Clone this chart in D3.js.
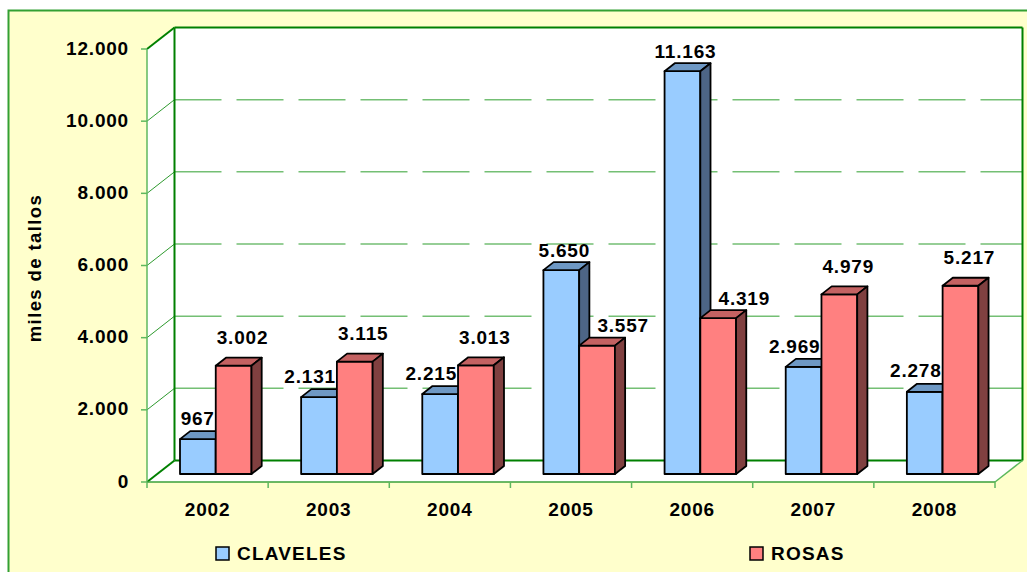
<!DOCTYPE html>
<html>
<head>
<meta charset="utf-8">
<script src="https://cdn.jsdelivr.net/npm/d3@7"></script>
<style>
  body { margin: 0; background: #fff; }
  svg { display: block; }
  text { font-family: "Liberation Sans", Arial, sans-serif; font-weight: bold; fill: #000; }
</style>
</head>
<body>
<svg id="canvas" width="1027" height="572"></svg>
<script>
let years = ['2002', '2003', '2004', '2005', '2006', '2007', '2008']
let claveles = [967, 2131, 2215, 5650, 11163, 2969, 2278]
let rosas = [3002, 3115, 3013, 3557, 4319, 4979, 5217]
let seriesNames = ['CLAVELES', 'ROSAS']
let yTicks = [0, 2000, 4000, 6000, 8000, 10000, 12000]
let yTitle = 'miles de tallos'

// colours: front, top, side
let colors = {
    CLAVELES: ['#99ccff', '#6e98c4', '#4d6586'],
    ROSAS: ['#ff8080', '#c46262', '#804040']
}

let locale = d3.formatLocale({ decimal: ',', thousands: '.', grouping: [3], currency: ['', ''] })
let fmt = locale.format(',d')

let canvas = d3.select('#canvas')

// wall depth (oblique projection) and bar depth
let wallDx = 27.5, wallDy = -21.5
let frontDx = 10.2, frontDy = -8
let barDx = 10.2, barDy = -8

let x = d3.scaleBand().domain(years).range([147, 995])
let xs = d3.scaleBand().domain(seriesNames).range([0, 71.5])
let y = d3.scaleLinear().domain([0, 12000]).range([482, 49])

let x0 = x.range()[0], x1 = x.range()[1]
let yBase = y(0), yTop = y(12000)

// outer frame
canvas.append('rect')
    .attr('x', 8.5).attr('y', 10.5)
    .attr('width', 1040).attr('height', 600)
    .attr('fill', '#ffffcc')
    .attr('stroke', '#33a033')
    .attr('stroke-width', 2)

// walls and floor
let wallFill = '#ffffff'
canvas.append('rect')
    .attr('x', x0 + wallDx).attr('y', yTop + wallDy)
    .attr('width', x1 - x0).attr('height', yBase - yTop)
    .attr('fill', wallFill)
canvas.append('polygon')
    .attr('points', [[x0, yTop], [x0 + wallDx, yTop + wallDy], [x0 + wallDx, yBase + wallDy], [x0, yBase]].join(' '))
    .attr('fill', wallFill)
canvas.append('polygon')
    .attr('points', [[x0, yBase], [x1, yBase], [x1 + wallDx, yBase + wallDy], [x0 + wallDx, yBase + wallDy]].join(' '))
    .attr('fill', wallFill)

// gridlines
let gridTicks = yTicks.filter(t => t > 0 && t < 12000)
canvas.selectAll('line.grid')
    .data(gridTicks)
    .enter()
    .append('line')
    .attr('class', 'grid')
    .attr('x1', x0 + wallDx).attr('x2', x1 + wallDx)
    .attr('y1', d => y(d) + wallDy).attr('y2', d => y(d) + wallDy)
    .attr('stroke', '#74bf74')
    .attr('stroke-width', 1.5)
    .attr('stroke-dasharray', '47,15')
canvas.selectAll('line.sidegrid')
    .data(gridTicks)
    .enter()
    .append('line')
    .attr('class', 'sidegrid')
    .attr('x1', x0).attr('x2', x0 + wallDx)
    .attr('y1', d => y(d)).attr('y2', d => y(d) + wallDy)
    .attr('stroke', '#2e9a2e')
    .attr('stroke-width', 1)

// back wall edges
let dark = '#008000'
let edge = (a, b, col, w) => canvas.append('line')
    .attr('x1', a[0]).attr('y1', a[1]).attr('x2', b[0]).attr('y2', b[1])
    .attr('stroke', col).attr('stroke-width', w)
edge([x0 + wallDx, yTop + wallDy], [x1 + wallDx, yTop + wallDy], dark, 2)
edge([x0 + wallDx, yTop + wallDy], [x0 + wallDx, yBase + wallDy], dark, 2)
edge([x1 + wallDx, yTop + wallDy], [x1 + wallDx, yBase + wallDy], dark, 2)
edge([x0 + wallDx, yBase + wallDy], [x1 + wallDx, yBase + wallDy], dark, 2)
edge([x0, yTop], [x0 + wallDx, yTop + wallDy], dark, 2)
edge([x0, yBase], [x0 + wallDx, yBase + wallDy], dark, 2)
edge([x1, yBase], [x1 + wallDx, yBase + wallDy], '#5cb85c', 1.5)

// front axes
let light = '#5fb85f'
edge([x0, yTop], [x0, yBase], light, 1.5)
edge([x0, yBase], [x1, yBase], '#3aa03a', 1.5)

canvas.selectAll('line.ytick')
    .data(yTicks)
    .enter()
    .append('line')
    .attr('x1', x0 - 6).attr('x2', x0)
    .attr('y1', d => y(d)).attr('y2', d => y(d))
    .attr('stroke', light).attr('stroke-width', 1.5)

canvas.selectAll('text.ylab')
    .data(yTicks)
    .enter()
    .append('text')
    .attr('x', 129)
    .attr('y', d => y(d) - 1)
    .attr('dy', '0.35em')
    .attr('text-anchor', 'end')
    .attr('font-size', 19)
    .attr('letter-spacing', 0.8)
    .text(d => fmt(d))

let xTickPos = years.map(d => x(d)).concat([x1])
canvas.selectAll('line.xtick')
    .data(xTickPos)
    .enter()
    .append('line')
    .attr('x1', d => d).attr('x2', d => d)
    .attr('y1', yBase).attr('y2', yBase + 6)
    .attr('stroke', light).attr('stroke-width', 1.5)

canvas.selectAll('text.xlab')
    .data(years)
    .enter()
    .append('text')
    .attr('x', d => x(d) + x.bandwidth() / 2)
    .attr('y', 516)
    .attr('text-anchor', 'middle')
    .attr('font-size', 19)
    .attr('letter-spacing', 0.8)
    .text(d => d)

// axis title
canvas.append('text')
    .attr('transform', 'translate(35,268) rotate(-90)')
    .attr('dy', '0.35em')
    .attr('text-anchor', 'middle')
    .attr('font-size', 18.5)
    .attr('letter-spacing', 1.4)
    .text(yTitle)

// bars
let groupOffset = 22.8
let bw = xs.bandwidth()
let barData = []
years.forEach((yr, i) => {
    barData.push({ year: yr, s: 'CLAVELES', v: claveles[i], other: rosas[i] })
    barData.push({ year: yr, s: 'ROSAS', v: rosas[i], other: claveles[i] })
})

let bars = canvas.selectAll('g.bar')
    .data(barData)
    .enter()
    .append('g')
    .attr('class', 'bar')

let bx = d => x(d.year) + frontDx + groupOffset + xs(d.s)
let bTop = d => y(d.v) + frontDy
let bBot = yBase + frontDy

bars.append('rect')
    .attr('x', bx)
    .attr('y', bTop)
    .attr('width', bw)
    .attr('height', d => bBot - bTop(d))
    .attr('fill', d => colors[d.s][0])
    .attr('stroke', '#000').attr('stroke-width', 1.8).attr('stroke-linejoin', 'round')
bars.append('polygon')
    .attr('points', d => {
        let l = bx(d), t = bTop(d)
        return [[l, t], [l + barDx, t + barDy], [l + bw + barDx, t + barDy], [l + bw, t]].join(' ')
    })
    .attr('fill', d => colors[d.s][1])
    .attr('stroke', '#000').attr('stroke-width', 1.8).attr('stroke-linejoin', 'round')
bars.append('polygon')
    .attr('points', d => {
        let r = bx(d) + bw, t = bTop(d)
        return [[r, t], [r + barDx, t + barDy], [r + barDx, bBot + barDy], [r, bBot]].join(' ')
    })
    .attr('fill', d => colors[d.s][2])
    .attr('stroke', '#000').attr('stroke-width', 1.8).attr('stroke-linejoin', 'round')

// value labels (placed beside the neighbouring bar like the original)
bars.append('text')
    .attr('font-size', 19)
    .attr('letter-spacing', 0.8)
    .attr('dy', '0.35em')
    .text(d => fmt(d.v))
    .each(function (d) {
        let t = d3.select(this)
        let l = bx(d), top = bTop(d)
        if (d.s === 'CLAVELES') {
            if (d.v < d.other) {
                t.attr('text-anchor', 'end').attr('x', l + bw - 1).attr('y', top - 21)
            } else {
                t.attr('text-anchor', 'middle').attr('x', l + bw / 2 + 3).attr('y', top - 20)
            }
        } else {
            if (d.v > d.other) {
                t.attr('text-anchor', 'start').attr('x', l + 1).attr('y', top - 28)
            } else {
                t.attr('text-anchor', 'start').attr('x', l + barDx + 8).attr('y', top - 20)
            }
        }
    })

// legend
let legendX = [216, 750]
let legend = canvas.selectAll('g.legend')
    .data(seriesNames)
    .enter()
    .append('g')
    .attr('transform', (d, i) => `translate(${legendX[i]},547)`)
legend.append('rect')
    .attr('width', 13).attr('height', 13)
    .attr('fill', d => colors[d][0])
    .attr('stroke', '#000').attr('stroke-width', 1.5)
legend.append('text')
    .attr('x', 21).attr('y', 13)
    .attr('font-size', 19)
    .attr('letter-spacing', 1.2)
    .text(d => d)
</script>
</body>
</html>
